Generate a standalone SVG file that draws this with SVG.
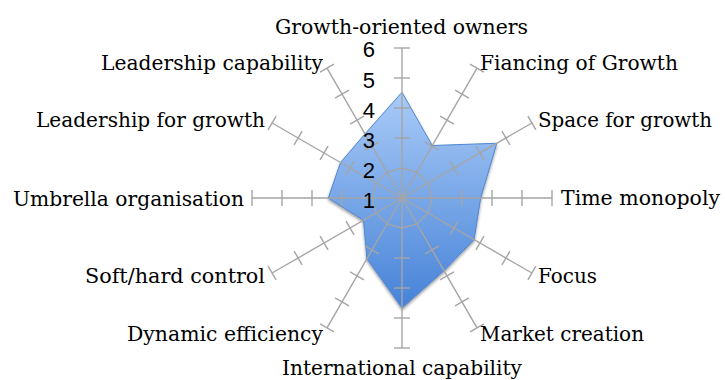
<svg xmlns="http://www.w3.org/2000/svg" xmlns:xlink="http://www.w3.org/1999/xlink" width="725" height="380" viewBox="0 0 725 380">
<style>
.ax{stroke:#a5a5a5;stroke-width:1.4;fill:none}
.grid{stroke:#a5a5a5;stroke-width:1.4;fill:none}
.lbl{font-family:"DejaVu Serif","Liberation Serif",serif;font-size:20.5px;fill:#000}
.num{font-family:"Liberation Sans",Arial,sans-serif;font-size:22px;fill:#000;text-anchor:end}
</style>
<defs>
<linearGradient id="fillGrad" x1="0" y1="92" x2="0" y2="308" gradientUnits="userSpaceOnUse">
<stop offset="0" stop-color="#a9cbf7"/>
<stop offset="1" stop-color="#4682d8"/>
</linearGradient>
<filter id="shadow" x="-10%" y="-10%" width="120%" height="120%">
<feGaussianBlur in="SourceAlpha" stdDeviation="1.5"/>
<feOffset dx="0" dy="1.5" result="b"/>
<feComponentTransfer><feFuncA type="linear" slope="0.4"/></feComponentTransfer>
<feMerge><feMergeNode/><feMergeNode in="SourceGraphic"/></feMerge>
</filter>
<g id="axis">
<line class="ax" x1="0" y1="0" x2="0" y2="-150"/>
<line class="ax" x1="-8" y1="-60" x2="8" y2="-60"/>
<line class="ax" x1="-8" y1="-90" x2="8" y2="-90"/>
<line class="ax" x1="-8" y1="-120" x2="8" y2="-120"/>
<line class="ax" x1="-8" y1="-150" x2="8" y2="-150"/>
</g>
</defs>
<rect width="725" height="380" fill="#fff"/>
<g id="series">
<polygon filter="url(#shadow)" fill="url(#fillGrad)" stroke="#4f86d2" stroke-width="1" points="402,92.3 432.3,145.5 496.8,143.25 480.7,198 474.05,239.6 444,270.7 402,308 366.9,258.8 363.5,220.25 328.3,198 340.5,162.5 365,133.9"/>
</g>
<g id="connectors">
<polygon class="grid" points="402,168 417,172.02 427.98,183 432,198 427.98,213 417,223.98 402,228 387,223.98 376.02,213 372,198 376.02,183 387,172.02"/>
<use xlink:href="#axis" transform="translate(402,198) rotate(0)"/>
<use xlink:href="#axis" transform="translate(402,198) rotate(30)"/>
<use xlink:href="#axis" transform="translate(402,198) rotate(60)"/>
<use xlink:href="#axis" transform="translate(402,198) rotate(90)"/>
<use xlink:href="#axis" transform="translate(402,198) rotate(120)"/>
<use xlink:href="#axis" transform="translate(402,198) rotate(150)"/>
<use xlink:href="#axis" transform="translate(402,198) rotate(180)"/>
<use xlink:href="#axis" transform="translate(402,198) rotate(210)"/>
<use xlink:href="#axis" transform="translate(402,198) rotate(240)"/>
<use xlink:href="#axis" transform="translate(402,198) rotate(270)"/>
<use xlink:href="#axis" transform="translate(402,198) rotate(300)"/>
<use xlink:href="#axis" transform="translate(402,198) rotate(330)"/>
</g>
<g id="scale">
<text class="num" x="375" y="57">6</text>
<text class="num" x="375" y="88">5</text>
<text class="num" x="375" y="118">4</text>
<text class="num" x="375" y="148">3</text>
<text class="num" x="375" y="178">2</text>
<text class="num" x="375" y="208">1</text>
</g>
<g id="n-growth-oriented-owners"><text class="lbl" x="275" y="34" textLength="253" lengthAdjust="spacingAndGlyphs">Growth-oriented owners</text></g>
<g id="n-fiancing-of-growth"><text class="lbl" x="480" y="70" textLength="198" lengthAdjust="spacingAndGlyphs">Fiancing of Growth</text></g>
<g id="n-space-for-growth"><text class="lbl" x="538" y="127" textLength="174" lengthAdjust="spacingAndGlyphs">Space for growth</text></g>
<g id="n-time-monopoly"><text class="lbl" x="561" y="205" textLength="159" lengthAdjust="spacingAndGlyphs">Time monopoly</text></g>
<g id="n-focus"><text class="lbl" x="538" y="283" textLength="59" lengthAdjust="spacingAndGlyphs">Focus</text></g>
<g id="n-market-creation"><text class="lbl" x="480" y="341" textLength="164" lengthAdjust="spacingAndGlyphs">Market creation</text></g>
<g id="n-international-capability"><text class="lbl" x="282" y="375" textLength="240" lengthAdjust="spacingAndGlyphs">International capability</text></g>
<g id="n-dynamic-efficiency"><text class="lbl" x="127" y="341" textLength="196" lengthAdjust="spacingAndGlyphs">Dynamic efficiency</text></g>
<g id="n-soft-hard-control"><text class="lbl" x="85" y="283" textLength="180" lengthAdjust="spacingAndGlyphs">Soft/hard control</text></g>
<g id="n-umbrella-organisation"><text class="lbl" x="13" y="206" textLength="231" lengthAdjust="spacingAndGlyphs">Umbrella organisation</text></g>
<g id="n-leadership-for-growth"><text class="lbl" x="36" y="127" textLength="229" lengthAdjust="spacingAndGlyphs">Leadership for growth</text></g>
<g id="n-leadership-capability"><text class="lbl" x="101" y="70" textLength="222" lengthAdjust="spacingAndGlyphs">Leadership capability</text></g>
</svg>
